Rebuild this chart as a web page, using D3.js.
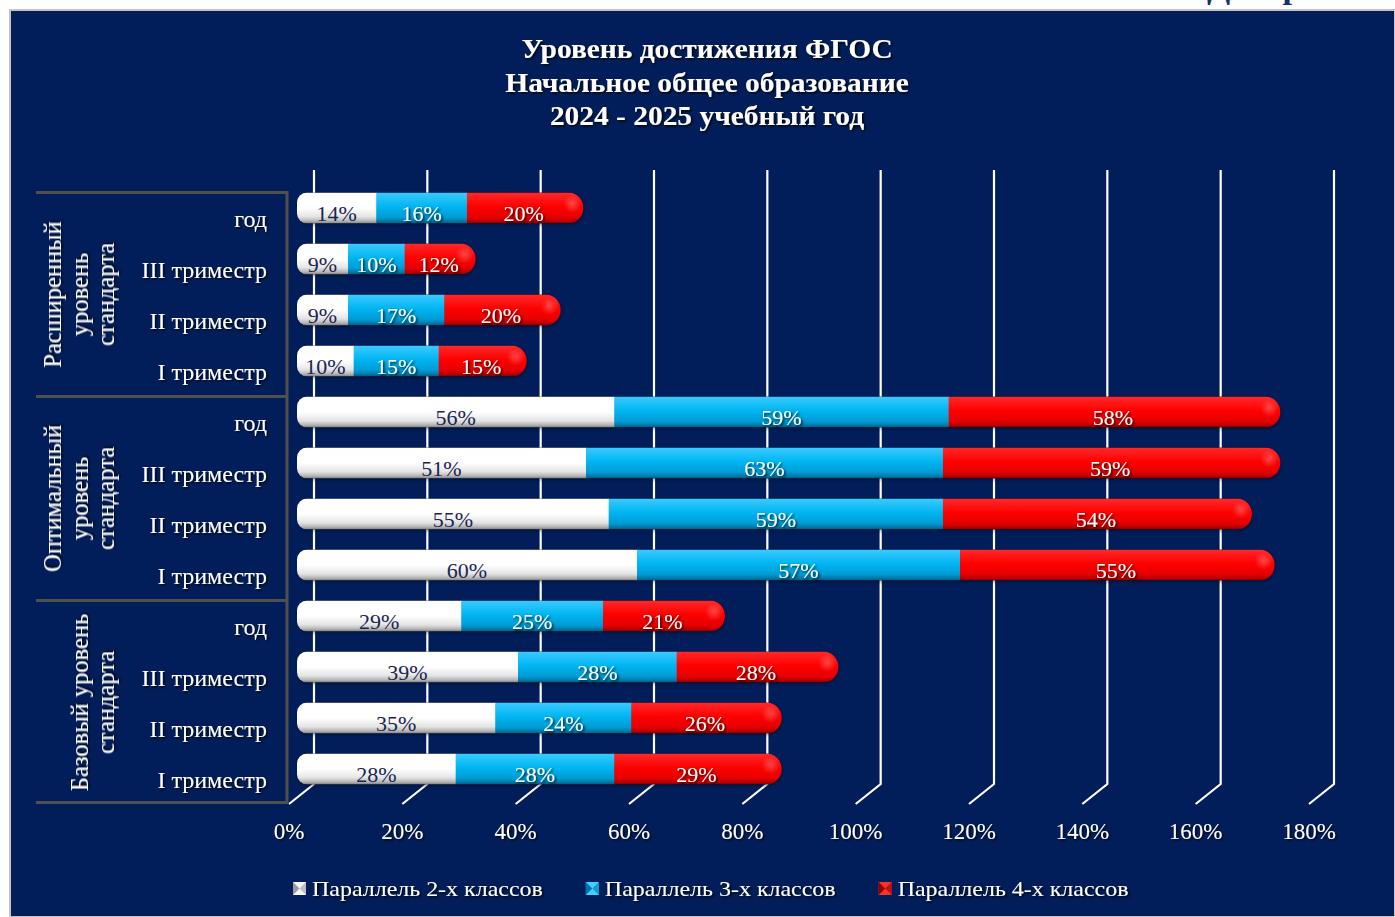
<!DOCTYPE html>
<html><head><meta charset="utf-8">
<script src="https://cdn.jsdelivr.net/npm/d3@7"></script>
<style>
body{margin:0;background:#fff;}
text{font-family:"Liberation Serif","Times New Roman",serif;}
</style>
</head><body>
<svg id="c" width="1395" height="917"></svg>
<script>
// ---------- DATA ----------
const groupLabels = [
  ["Расширенный","уровень","стандарта"],
  ["Оптимальный","уровень","стандарта"],
  ["Базовый уровень","стандарта"]
];
const periods = ["год","III триместр","II триместр","I триместр"];
const seriesNames = ["Параллель 2-х классов","Параллель 3-х классов","Параллель 4-х классов"];
// rows listed top to bottom: Расширенный (год, III, II, I), Оптимальный (...), Базовый (...)
const grade2 = [14, 9, 9, 10, 56, 51, 55, 60, 29, 39, 35, 28];
const grade3 = [16, 10, 17, 15, 59, 63, 59, 57, 25, 28, 24, 28];
const grade4 = [20, 12, 20, 15, 58, 59, 54, 55, 21, 28, 26, 29];
const tickValues = [0,20,40,60,80,100,120,140,160,180];
const titleLines = ["Уровень достижения ФГОС","Начальное общее образование","2024 - 2025 учебный год"];
const pageHeading = "Диаграмма";

// ---------- BUILD ----------
const rows = [];
groupLabels.forEach((g,gi)=>periods.forEach((p,pi)=>{
  const i = gi*4+pi;
  rows.push({id:i, group:gi, label:p, s0:grade2[i], s1:grade3[i], s2:grade4[i]});
}));

const svg = d3.select("#c");
const defs = svg.append("defs");

// text shadow
const f = defs.append("filter").attr("id","sh").attr("x","-20%").attr("y","-20%").attr("width","140%").attr("height","140%");
f.append("feDropShadow").attr("dx",1.5).attr("dy",1.5).attr("stdDeviation",0.9)
 .attr("flood-color","#000").attr("flood-opacity",0.85);
const fb = defs.append("filter").attr("id","barsh").attr("x","-5%").attr("y","-30%").attr("width","110%").attr("height","160%");
fb.append("feDropShadow").attr("dx",1).attr("dy",2).attr("stdDeviation",1.5)
 .attr("flood-color","#000").attr("flood-opacity",0.5);

const gradStops = [
  [["0%","#ffffff"],["50%","#ffffff"],["78%","#e4e4e4"],["92%","#b4b4b4"],["100%","#7d7d7d"]],
  [["0%","#3ccaff"],["45%","#00b6f2"],["80%","#009bd4"],["93%","#0079aa"],["100%","#005580"]],
  [["0%","#ff2a2a"],["45%","#ff0000"],["80%","#e50000"],["93%","#b80000"],["100%","#7a0000"]]
];
gradStops.forEach((st,i)=>{
  const g = defs.append("linearGradient").attr("id","g"+i).attr("x1",0).attr("y1",0).attr("x2",0).attr("y2",1);
  st.forEach(s=>g.append("stop").attr("offset",s[0]).attr("stop-color",s[1]));
});
const rg = defs.append("radialGradient").attr("id","hl");
rg.append("stop").attr("offset","0%").attr("stop-color","#fff").attr("stop-opacity",0.25);
rg.append("stop").attr("offset","100%").attr("stop-color","#fff").attr("stop-opacity",0);

// cut-off page heading above the chart (only its lowest strokes show, as in the source)
svg.append("text").attr("x",1207).attr("y",-2).attr("font-size",34).attr("font-weight","bold")
  .attr("fill","#17306e").text(pageHeading);

// background panel
svg.append("rect").attr("x",10).attr("y",10).attr("width",1385).attr("height",907)
  .attr("fill","#021e5a").attr("stroke","#c4c4c4").attr("stroke-width",2);

// scales
const x = d3.scaleLinear().domain([0,180]).range([297,1317]);
const frontOff = -8, backOff = 17;
const y = d3.scaleBand().domain(rows.map(r=>r.id)).range([182.5,794.5]).padding(0);
const barH = 31;
const cy = id => y(id)+y.bandwidth()/2;

// gridlines (3D wall + floor)
const gridTop = 170, gridBottom = 784, floorFront = 804;
svg.append("g").selectAll("polyline").data(tickValues).join("polyline")
  .attr("points", t=>`${x(t)+backOff},${gridTop} ${x(t)+backOff},${gridBottom} ${x(t)+frontOff},${floorFront}`)
  .attr("fill","none").attr("stroke","#ffffff").attr("stroke-width",2.2);

// tick labels
svg.append("g").selectAll("text").data(tickValues).join("text")
  .attr("x", t=>x(t)+frontOff).attr("y",839).attr("text-anchor","middle")
  .attr("font-size",23).attr("fill","#ffffff").attr("filter","url(#sh)")
  .text(t=>t+"%");

// category table
const tbl = svg.append("g").attr("stroke","#4f4f4f").attr("stroke-width",3);
const bounds = [0,4,8].map(i=>y(i)+10).concat([y(11)+y.bandwidth()+8]);
bounds.forEach(b=>{
  tbl.append("line").attr("x1",36).attr("x2",287).attr("y1",b).attr("y2",b);
});
tbl.append("line").attr("x1",287).attr("x2",287).attr("y1",bounds[0]-1.5).attr("y2",bounds[3]+1.5);

// row labels
svg.append("g").selectAll("text").data(rows).join("text")
  .attr("x",267).attr("y",r=>cy(r.id)+19).attr("text-anchor","end")
  .attr("font-size",24).attr("fill","#fff").attr("filter","url(#sh)")
  .text(r=>r.label);

// group labels (rotated)
groupLabels.forEach((lines,gi)=>{
  const c = (cy(gi*4)+cy(gi*4+3))/2 + 10;
  const bases = lines.length===3 ? [61,88,114] : [88,114];
  lines.forEach((ln,li)=>{
    svg.append("text").attr("transform",`translate(${bases[li]},${c}) rotate(-90)`)
      .attr("text-anchor","middle").attr("font-size",24.5).attr("fill","#fff")
      .attr("filter","url(#sh)").text(ln);
  });
});

// bars
const keys = ["s0","s1","s2"];
const stack = d3.stack().keys(keys)(rows);
const barPath = (x0,x1,yc)=>{
  const t = yc-barH/2, b = yc+barH/2, rl = 10, rr = 15;
  return `M${x0+rl},${t} L${x1-rr},${t} A${rr},${barH/2} 0 0 1 ${x1-rr},${b} L${x0+rl},${b} A${rl},${rl} 0 0 1 ${x0},${b-rl} L${x0},${t+rl} A${rl},${rl} 0 0 1 ${x0+rl},${t} Z`;
};
const barsG = svg.append("g");
rows.forEach((r,ri)=>{
  const total = r.s0+r.s1+r.s2;
  const cid = "clip"+r.id;
  defs.append("clipPath").attr("id",cid).append("path").attr("d",barPath(x(0),x(total)+3,cy(r.id)));
  const g = barsG.append("g");
  g.append("path").attr("d",barPath(x(0),x(total)+3,cy(r.id))).attr("fill","#000").attr("filter","url(#barsh)").attr("opacity",0.6);
  const inner = g.append("g").attr("clip-path",`url(#${cid})`);
  stack.forEach((s,si)=>{
    const d = s[ri];
    inner.append("rect").attr("x",x(d[0])).attr("width",x(d[1])-x(d[0])+(si<2?0.5:20))
      .attr("y",cy(r.id)-barH/2).attr("height",barH).attr("fill",`url(#g${si})`);
  });
  inner.append("ellipse").attr("cx",x(total)-8).attr("cy",cy(r.id)-4).attr("rx",9).attr("ry",9).attr("fill","url(#hl)");
});

// data labels
stack.forEach((s,si)=>{
  svg.append("g").selectAll("text").data(s).join("text")
    .attr("x",d=>(x(d[0])+x(d[1]))/2).attr("y",(d,i)=>cy(rows[i].id)+13)
    .attr("text-anchor","middle").attr("font-size",22)
    .attr("fill", si===0 ? "#1c2552" : "#ffffff")
    .attr("filter", si===0 ? null : "url(#sh)")
    .text(d=>(d[1]-d[0])+"%");
});

// title
svg.append("g").selectAll("text").data(titleLines).join("text")
  .attr("transform",(d,i)=>`translate(707,${58+i*33.5}) scale(1.07,1)`).attr("text-anchor","middle")
  .attr("font-size",27.5).attr("font-weight","bold").attr("fill","#fff").attr("filter","url(#sh)")
  .text(d=>d);

// legend
const markerCols = [["#f4f4f4","#9a9a9a"],["#3fd0ff","#0072a8"],["#ff3030","#8a0000"]];
let lx = 293;
const lg = svg.append("g");
seriesNames.forEach((n,i)=>{
  const mx = lx, my = 882, s = 13;
  const [light,dark] = markerCols[i];
  lg.append("rect").attr("x",mx).attr("y",my).attr("width",s).attr("height",s).attr("fill",light);
  lg.append("path").attr("d",`M${mx},${my} L${mx+s/2},${my+s/2} L${mx},${my+s} Z`).attr("fill",dark);
  lg.append("path").attr("d",`M${mx+s},${my} L${mx+s/2},${my+s/2} L${mx+s},${my+s} Z`).attr("fill",dark).attr("opacity",0.6);
  const sx = 1.115;
  const t = lg.append("text").attr("transform",`translate(${mx+s+6},896) scale(${sx},1)`).attr("font-size",21.5)
    .attr("fill","#fff").attr("filter","url(#sh)").text(n);
  lx = mx + s + 6 + t.node().getComputedTextLength()*sx + 43;
});
</script>
</body></html>
